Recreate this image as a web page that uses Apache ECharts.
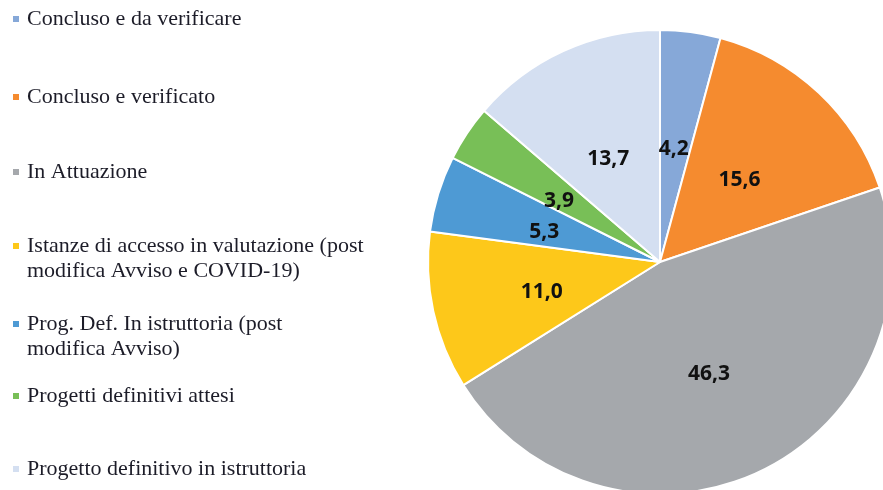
<!DOCTYPE html>
<html>
<head>
<meta charset="utf-8">
<script src="https://cdn.jsdelivr.net/npm/echarts@6/dist/echarts.min.js"></script>
<style>
  html, body { margin: 0; padding: 0; background: #fff; }
  #chart { width: 883px; height: 490px; }
</style>
</head>
<body>
<div id="chart"></div>
<script>
const categories = [
  "Concluso e da verificare",
  "Concluso e verificato",
  "In Attuazione",
  "Istanze di accesso in valutazione (post modifica Avviso e COVID-19)",
  "Prog. Def. In istruttoria (post modifica Avviso)",
  "Progetti definitivi attesi",
  "Progetto definitivo in istruttoria",
];
const legendLabels = [
  "Concluso e da verificare",
  "Concluso e verificato",
  "In Attuazione",
  "Istanze di accesso in valutazione (post\nmodifica Avviso e COVID-19)",
  "Prog. Def. In istruttoria (post\nmodifica Avviso)",
  "Progetti definitivi attesi",
  "Progetto definitivo in istruttoria",
];
const values = [4.2, 15.6, 46.3, 11.0, 5.3, 3.9, 13.7];
const colors = ["#86a8d8", "#f58b2f", "#a5a8ac", "#fdc81a", "#4e9ad4", "#78bf57", "#d4dff1"];

// y of the first text line of each legend entry
const legendLineY = [19, 97, 172, 246, 324, 396, 469];
const LINE_H = 25;

const chart = echarts.init(document.getElementById("chart"));

chart.setOption({
  animation: false,
  color: colors,
  legend: categories.map((name, i) => {
    const wrapped = legendLabels[i].includes("\n");
    // legend text is centred on the marker, so a blank line on top of wrapped
    // entries keeps the marker next to the first line
    const text = wrapped ? " \n" + legendLabels[i] : legendLabels[i];
    const lines = text.split("\n").length;
    return {
      data: [name],
      left: 11,
      top: legendLineY[i] - (lines * LINE_H) / 2,
      padding: 0,
      orient: "vertical",
      icon: "rect",
      itemWidth: 8,
      itemHeight: 8,
      selectedMode: false,
      formatter: () => text,
      textStyle: {
        fontFamily: "Liberation Serif",
        fontSize: 22,
        color: "#1c1c28",
        lineHeight: LINE_H,
        padding: [0, 0, 0, 2],
      },
    };
  }),
  series: [
    {
      type: "pie",
      center: [660, 262],
      radius: 232,
      startAngle: 90,
      clockwise: true,
      avoidLabelOverlap: false,
      itemStyle: { borderColor: "#fff", borderWidth: 2 },
      label: {
        show: true,
        position: "inside",
        offset: [-2, 5],
        formatter: (p) => p.value.toFixed(1).replace(".", ","),
        fontFamily: "Open Sans",
        fontWeight: "bold",
        fontSize: 21,
        color: "#111",
      },
      labelLine: { show: false },
      emphasis: { disabled: true },
      data: categories.map((name, i) => ({ name, value: values[i] })),
    },
  ],
});
</script>
</body>
</html>
